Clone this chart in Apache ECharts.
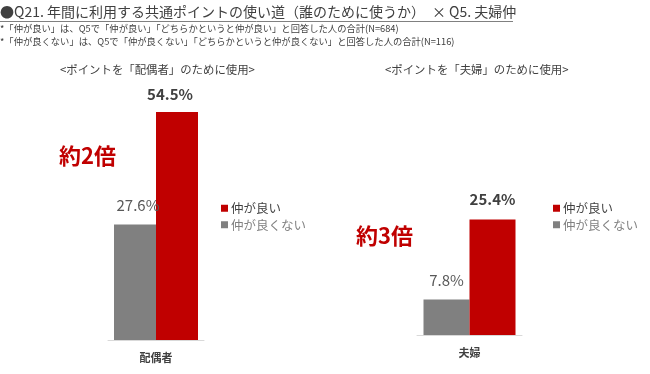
<!DOCTYPE html>
<html><head><meta charset="utf-8">
<script src="https://cdn.jsdelivr.net/npm/echarts@6/dist/echarts.min.js"></script>
<style>html,body{margin:0;padding:0;background:#fff}#c{width:650px;height:374px}</style>
</head><body><div id="c"></div>
<script>
const seriesNames = ['仲が良い', '仲が良くない'];
const leftCategory = ['配偶者'];
const rightCategory = ['夫婦'];
const leftGood = [54.5];
const leftBad = [27.6];
const rightGood = [25.4];
const rightBad = [7.8];
const titleText = '●Q21. 年間に利用する共通ポイントの使い道（誰のために使うか）　× Q5. 夫婦仲';
const note1 = '*「仲が良い」は、Q5で「仲が良い」「どちらかというと仲が良い」と回答した人の合計(N=684)';
const note2 = '*「仲が良くない」は、Q5で「仲が良くない」「どちらかというと仲が良くない」と回答した人の合計(N=116)';
const subLeft = '<ポイントを「配偶者」のために使用>';
const subRight = '<ポイントを「夫婦」のために使用>';
const ratioLeft = '約2倍';
const ratioRight = '約3倍';

const FF = '"Noto Sans CJK JP", "Noto Sans", sans-serif';
const RED = '#C00000', GRAY = '#808080';
const chart = echarts.init(document.getElementById('c'), null, {renderer: 'canvas'});

function xAxis(gi, data) {
  return {type: 'category', gridIndex: gi, data: data,
    axisLine: {show: true, lineStyle: {color: '#d9d9d9', width: 1}},
    axisTick: {show: false},
    axisLabel: {color: '#404040', fontSize: 11, fontWeight: 'bold', fontFamily: FF, margin: 12}};
}
function yAxis(gi, max) {
  return {type: 'value', gridIndex: gi, min: 0, max: max, show: false, splitLine: {show: false}};
}
function legend(left) {
  return {orient: 'vertical', left: left, top: 197, itemWidth: 7, itemHeight: 7, itemGap: 4,
    icon: 'rect', selectedMode: false,
    textStyle: {fontFamily: FF, fontSize: 12.5, padding: [0, 0, 0, -2]},
    data: [{name: seriesNames[0], textStyle: {color: '#404040'}},
           {name: seriesNames[1], textStyle: {color: GRAY}}]};
}
function barSeries(name, gi, data, color, lbl) {
  return {type: 'bar', name: name, xAxisIndex: gi, yAxisIndex: gi, data: data,
    barWidth: gi === 0 ? 42 : 46, barGap: '0%', itemStyle: {color: color},
    label: Object.assign({show: true, position: 'top', formatter: '{c}%', fontFamily: FF, fontSize: 15}, lbl)};
}

chart.setOption({
  animation: false,
  grid: [
    {left: 108, width: 96, top: 89, bottom: 34},
    {left: 417, width: 105, top: 198.5, bottom: 39}
  ],
  xAxis: [xAxis(0, leftCategory), xAxis(1, rightCategory)],
  yAxis: [yAxis(0, 60), yAxis(1, 30)],
  legend: [legend(216), legend(548)],
  series: [
    barSeries(seriesNames[1], 0, leftBad, GRAY, {color: '#595959', distance: 12, offset: [3, 0]}),
    barSeries(seriesNames[0], 0, leftGood, RED, {color: '#404040', fontWeight: 'bold', distance: 10, offset: [-7, 0]}),
    barSeries(seriesNames[1], 1, rightBad, GRAY, {color: '#595959', distance: 12}),
    barSeries(seriesNames[0], 1, rightGood, RED, {color: '#404040', fontWeight: 'bold', distance: 13})
  ],
  graphic: [
    {type: 'text', left: 0, top: 5, style: {text: titleText, font: '14px ' + FF, fill: '#404040'}},
    {type: 'line', shape: {x1: 0, y1: 21.5, x2: 513, y2: 21.5}, style: {stroke: '#808080', lineWidth: 1}},
    {type: 'text', left: 0, top: 23.5, style: {text: note1, font: '9.3px ' + FF, fill: '#404040'}},
    {type: 'text', left: 0, top: 36.5, style: {text: note2, font: '9.3px ' + FF, fill: '#404040'}},
    {type: 'text', left: 60, top: 64, style: {text: subLeft, font: '11.4px ' + FF, fill: '#404040'}},
    {type: 'text', left: 385, top: 64, style: {text: subRight, font: '11.4px ' + FF, fill: '#404040'}},
    {type: 'text', left: 59, top: 145, style: {text: ratioLeft, font: 'bold 22px ' + FF, fill: RED}},
    {type: 'text', left: 356, top: 225, style: {text: ratioRight, font: 'bold 22px ' + FF, fill: RED}}
  ]
});
</script></body></html>
